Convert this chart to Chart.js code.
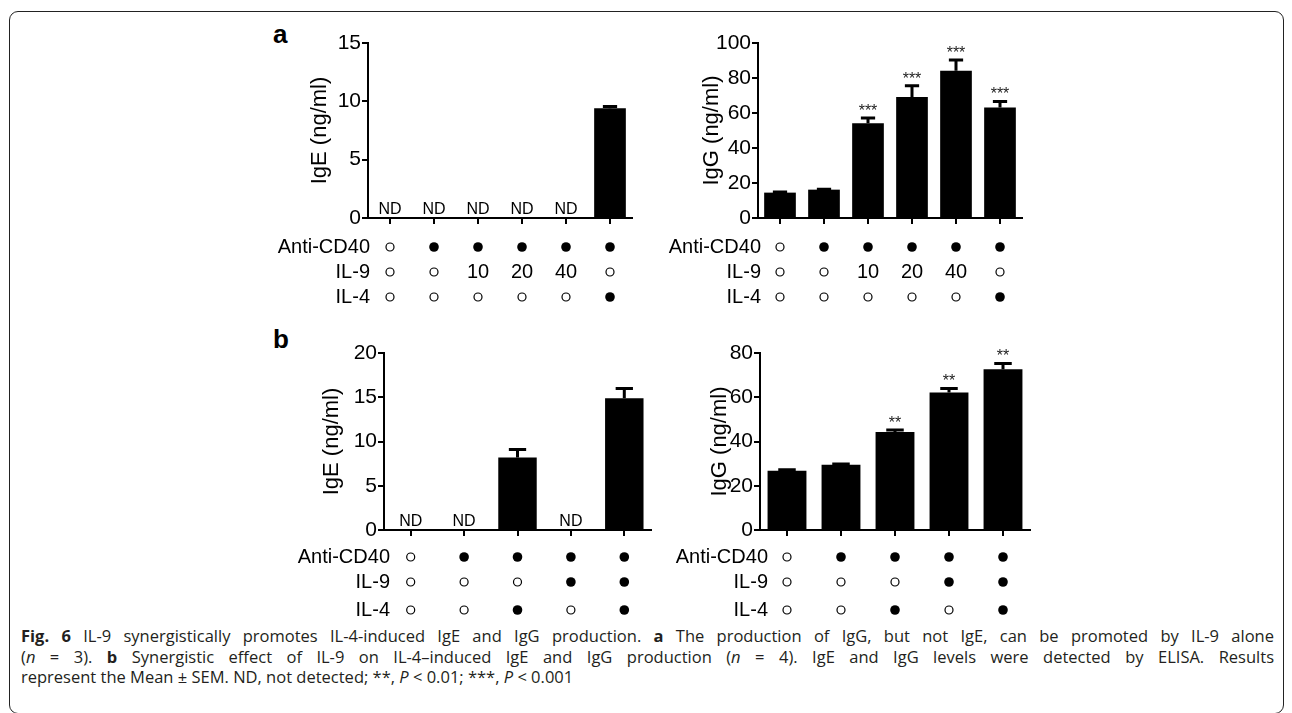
<!DOCTYPE html>
<html>
<head>
<meta charset="utf-8">
<script src="https://cdn.jsdelivr.net/npm/chart.js@4.4.1/dist/chart.umd.min.js"></script>
<style>
  html, body { margin: 0; padding: 0; background: #fff; }
  body { width: 1292px; height: 713px; position: relative; overflow: hidden; }
  canvas { position: absolute; }
  .frame { position: absolute; left: 9px; top: 11px; width: 1275px; height: 703px; border: 1.5px solid #222; border-radius: 9px; box-sizing: border-box; }
  .letter { position: absolute; font: bold 26px 'Liberation Sans', Arial, sans-serif; line-height: 26px; color: #000; }
  .caption { position: absolute; left: 21px; top: 626px; width: 1253px; font: 16.5px 'Open Sans', sans-serif; line-height: 20.5px; color: #231f20; white-space: nowrap; }
  .caption .j { text-align: justify; text-align-last: justify; }
</style>
</head>
<body>
<div class="frame"></div>
<div class="letter" style="left:273px;top:21px">a</div>
<div class="letter" style="left:273px;top:326px">b</div>
<canvas id="cA1" width="400" height="310" style="left:250px;top:0px"></canvas>
<canvas id="cA2" width="400" height="310" style="left:650px;top:0px"></canvas>
<canvas id="cB1" width="420" height="320" style="left:250px;top:300px"></canvas>
<canvas id="cB2" width="400" height="320" style="left:670px;top:300px"></canvas>
<div class="caption">
  <div class="j"><b>Fig. 6</b> IL-9 synergistically promotes IL-4-induced IgE and IgG production. <b>a</b> The production of IgG, but not IgE, can be promoted by IL-9 alone</div>
  <div class="j">(<i>n</i> = 3). <b>b</b> Synergistic effect of IL-9 on IL-4–induced IgE and IgG production (<i>n</i> = 4). IgE and IgG levels were detected by ELISA. Results</div>
  <div>represent the Mean ± SEM. ND, not detected; **, <i>P</i> &lt; 0.01; ***, <i>P</i> &lt; 0.001</div>
</div>
<script>
// Panel a: IL-9 alone (n = 3)
const aGroups = ['none', 'CD40', 'CD40+IL-9 10', 'CD40+IL-9 20', 'CD40+IL-9 40', 'CD40+IL-4'];
const aIgE = [null, null, null, null, null, 9.4];
const aIgEErr = [0, 0, 0, 0, 0, 0.15];
const aIgG = [14.5, 16.2, 54.2, 69.2, 84.1, 63.2];
const aIgGErr = [0.3, 0.3, 2.9, 6.4, 6.2, 3.4];
const aIgGSig = ['', '', '***', '***', '***', '***'];
const aIgETicks = [0, 5, 10, 15];
const aIgGTicks = [0, 20, 40, 60, 80, 100];
// condition table: 0 = open circle, 1 = filled circle, text = dose
const aAntiCD40 = [0, 1, 1, 1, 1, 1];
const aIL9 = [0, 0, '10', '20', '40', 0];
const aIL4 = [0, 0, 0, 0, 0, 1];

// Panel b: IL-9 + IL-4 (n = 4)
const bGroups = ['none', 'CD40', 'CD40+IL-4', 'CD40+IL-9', 'CD40+IL-9+IL-4'];
const bIgE = [null, null, 8.2, null, 14.9];
const bIgEErr = [0, 0, 0.9, 0, 1.1];
const bIgG = [26.8, 29.5, 44.3, 62.2, 72.7];
const bIgGErr = [0.4, 0.3, 0.9, 1.8, 2.6];
const bIgGSig = ['', '', '**', '**', '**'];
const bIgETicks = [0, 5, 10, 15, 20];
const bIgGTicks = [0, 20, 40, 60, 80];
const bAntiCD40 = [0, 1, 1, 1, 1];
const bIL9 = [0, 0, 0, 1, 1];
const bIL4 = [0, 0, 1, 0, 1];

const rowNames = ['Anti-CD40', 'IL-9', 'IL-4'];
const FONT = "'Liberation Sans', Arial, Helvetica, sans-serif";

// error bars, significance stars, ND marks and the condition table under the axis
const extras = {
    id: 'extras',
    afterDatasetsDraw(chart, args, opts) {
        const {ctx, chartArea} = chart;
        const xs = chart.scales.x, ys = chart.scales.y;
        const meta = chart.getDatasetMeta(0);
        ctx.save();
        ctx.fillStyle = '#000';
        ctx.strokeStyle = '#000';
        ctx.textAlign = 'center';
        ctx.textBaseline = 'alphabetic';
        opts.values.forEach((v, i) => {
            const cx = xs.getPixelForValue(i);
            if (v === null) {
                ctx.font = '16px ' + FONT;
                ctx.fillText('ND', cx, chartArea.bottom - 4);
                return;
            }
            const barTop = ys.getPixelForValue(v);
            const capY = ys.getPixelForValue(v + opts.errors[i]);
            const capW = meta.data[i].width * 0.45;
            ctx.lineWidth = 3;
            ctx.beginPath();
            ctx.moveTo(cx, barTop);
            ctx.lineTo(cx, capY);
            ctx.moveTo(cx - capW / 2, capY);
            ctx.lineTo(cx + capW / 2, capY);
            ctx.stroke();
            if (opts.stars && opts.stars[i]) {
                ctx.font = '16px ' + FONT;
                ctx.fillStyle = '#222';
                ctx.fillText(opts.stars[i], cx, capY - 2);
                ctx.fillStyle = '#000';
            }
        });
        ctx.restore();
    },
    afterDraw(chart, args, opts) {
        const {ctx, chartArea} = chart;
        const xs = chart.scales.x;
        ctx.save();
        ctx.fillStyle = '#000';
        ctx.strokeStyle = '#000';
        ctx.font = '20px ' + FONT;
        ctx.textBaseline = 'middle';
        opts.rows.forEach((row, r) => {
            const y = chartArea.bottom + opts.rowOffsets[r];
            ctx.textAlign = 'right';
            ctx.fillText(rowNames[r], chartArea.left + opts.labelDx, y);
            ctx.textAlign = 'center';
            row.forEach((m, i) => {
                const cx = xs.getPixelForValue(i);
                if (m === 0) {
                    ctx.lineWidth = 1.2;
                    ctx.beginPath();
                    ctx.arc(cx, y, 4, 0, Math.PI * 2);
                    ctx.stroke();
                } else if (m === 1) {
                    ctx.beginPath();
                    ctx.arc(cx, y, 4.8, 0, Math.PI * 2);
                    ctx.fill();
                } else {
                    ctx.fillText(m, cx, y);
                }
            });
        });
        ctx.restore();
    }
};

function makePanel(id, p) {
    return new Chart(document.getElementById(id), {
        type: 'bar',
        data: {
            labels: p.groups,
            datasets: [{
                data: p.values,
                backgroundColor: '#000',
                borderWidth: 0,
                barPercentage: 0.72,
                categoryPercentage: 1
            }]
        },
        options: {
            responsive: false,
            animation: false,
            layout: { padding: p.padding },
            plugins: {
                legend: { display: false },
                tooltip: { enabled: false },
                extras: {
                    values: p.values,
                    errors: p.errors,
                    stars: p.stars,
                    rows: p.rows,
                    rowOffsets: p.rowOffsets,
                    labelDx: p.labelDx
                }
            },
            scales: {
                x: {
                    offset: true,
                    grid: { offset: false, drawOnChartArea: false, color: '#000', lineWidth: 2, tickLength: 6 },
                    border: { color: '#000', width: 2 },
                    ticks: { display: false },
                    afterFit: s => { s.height = 10; s.paddingLeft = 0; s.paddingRight = 0; }
                },
                y: {
                    min: p.ticks[0],
                    max: p.ticks[p.ticks.length - 1],
                    afterBuildTicks: s => { s.ticks = p.ticks.map(v => ({ value: v })); },
                    grid: { drawOnChartArea: false, color: '#000', lineWidth: 2, tickLength: 6 },
                    border: { color: '#000', width: 2 },
                    ticks: { color: '#000', padding: 1, font: { size: 21, family: FONT } },
                    title: {
                        display: true,
                        text: p.title,
                        color: '#000',
                        font: { size: 22, family: FONT },
                        padding: { top: 0, bottom: 0 }
                    },
                    afterFit: s => { s.width = p.yWidth; s.paddingTop = 0; s.paddingBottom = 0; }
                }
            }
        },
        plugins: [extras]
    });
}

makePanel('cA1', {
    groups: aGroups, values: aIgE, errors: aIgEErr, stars: null, ticks: aIgETicks,
    title: 'IgE (ng/ml)', rows: [aAntiCD40, aIL9, aIL4],
    padding: { left: 57, top: 43, right: 18, bottom: 82 }, yWidth: 61,
    rowOffsets: [29, 54, 79], labelDx: 2
});
makePanel('cA2', {
    groups: aGroups, values: aIgG, errors: aIgGErr, stars: aIgGSig, ticks: aIgGTicks,
    title: 'IgG (ng/ml)', rows: [aAntiCD40, aIL9, aIL4],
    padding: { left: 49, top: 43, right: 28, bottom: 82 }, yWidth: 59,
    rowOffsets: [29, 54, 79], labelDx: 3
});
makePanel('cB1', {
    groups: bGroups, values: bIgE, errors: bIgEErr, stars: null, ticks: bIgETicks,
    title: 'IgE (ng/ml)', rows: [bAntiCD40, bIL9, bIL4],
    padding: { left: 69, top: 53, right: 19, bottom: 80 }, yWidth: 65,
    rowOffsets: [27, 52, 80], labelDx: 6
});
makePanel('cB2', {
    groups: bGroups, values: bIgG, errors: bIgGErr, stars: bIgGSig, ticks: bIgGTicks,
    title: 'IgG (ng/ml)', rows: [bAntiCD40, bIL9, bIL4],
    padding: { left: 37, top: 53, right: 40, bottom: 80 }, yWidth: 53,
    rowOffsets: [27, 52, 80], labelDx: 8
});
</script>
</body>
</html>
